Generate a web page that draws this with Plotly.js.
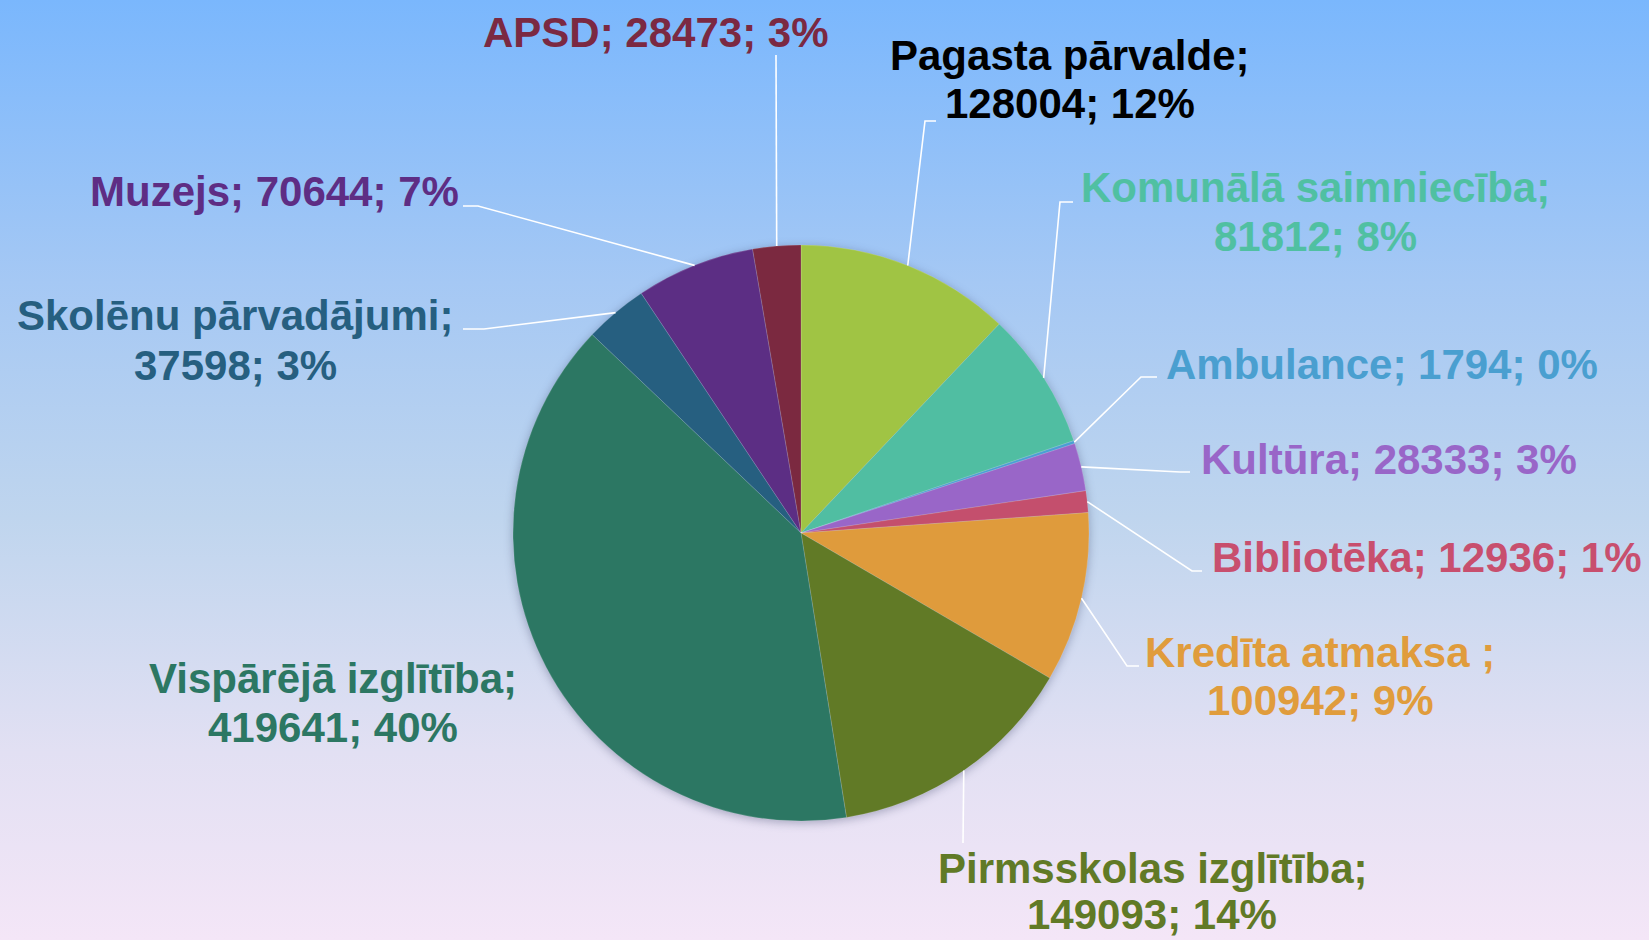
<!DOCTYPE html>
<html>
<head>
<meta charset="utf-8">
<script src="https://cdn.plot.ly/plotly-3.0.1.min.js"></script>
<style>
html,body{margin:0;padding:0;}
body{width:1649px;height:940px;overflow:hidden;background:linear-gradient(to bottom,#7ab7fd 0%,#a5c8f4 30%,#bfd5ee 55%,#e2e0f3 80%,#f4e6f7 100%);}
#chart{width:1649px;height:940px;}
#chart .pielayer{filter:drop-shadow(0px 2px 5px rgba(40,50,90,0.35));}
</style>
</head>
<body>
<div id="chart"></div>
<script>
// ---- data ----
const categories = ["Pagasta pārvalde", "Komunālā saimniecība", "Ambulance", "Kultūra", "Bibliotēka", "Kredīta atmaksa ", "Pirmsskolas izglītība", "Vispārējā izglītība", "Skolēnu pārvadājumi", "Muzejs", "APSD"];
const values = [128004, 81812, 1794, 28333, 12936, 100942, 149093, 419641, 37598, 70644, 28473];
const percentLabels = [12, 8, 0, 3, 1, 9, 14, 40, 3, 7, 3];

// ---- styles ----
const sliceColors = ["#a0c444", "#50bea2", "#4a9fd3", "#9966c8", "#c44f6d", "#df9b3c", "#617a26", "#2c7763", "#265f80", "#5c2e84", "#7b2940"];
const labelColors = ["#000000", "#50c0a2", "#4a9fd0", "#9966c8", "#c84f6e", "#e09c3c", "#617a26", "#2c7763", "#265f80", "#5e2d84", "#7b2942"];

// ---- layout geometry (pixels) ----
const W = 1649, H = 940;
const CX = 801, CY = 533, R = 288;
const FONT_SIZE = 42;
// label lines: [x, y] centre of each text line; twoLine tells whether name and numbers are split
const labelLayout = [
  {twoLine: true,  lines: [[1070, 55], [1070, 104]], path: [[925, 121], [936, 121]]},
  {twoLine: true,  lines: [[1315, 187], [1315, 236]], path: [[1060, 202], [1073, 202]]},
  {twoLine: false, lines: [[1382, 364]], path: [[1141, 377], [1157, 377]]},
  {twoLine: false, lines: [[1389, 460]], path: [[1180, 472], [1190, 472]]},
  {twoLine: false, lines: [[1427, 557]], path: [[1192, 571], [1202, 571]]},
  {twoLine: true,  lines: [[1320, 652], [1320, 700]], path: [[1127, 666], [1139, 666]]},
  {twoLine: true,  lines: [[1152, 868], [1152, 914]], path: [[963, 843]]},
  {twoLine: true,  lines: [[333, 678], [333, 727]], path: null},
  {twoLine: true,  lines: [[235, 316], [235, 365]], path: [[484, 329], [463, 329]]},
  {twoLine: false, lines: [[274, 191]], path: [[478, 206], [463, 206]]},
  {twoLine: false, lines: [[656, 32]], path: [[776, 55]]}
];

const px = x => x / W;
const py = y => 1 - y / H;

const total = values.reduce((a, b) => a + b, 0);
const annotations = [];
const shapes = [];
let cum = 0;
values.forEach((v, i) => {
  const mid = (cum + v / 2) / total * 2 * Math.PI;
  cum += v;
  const sx = CX + R * Math.sin(mid);
  const sy = CY - R * Math.cos(mid);
  const L = labelLayout[i];
  const name = categories[i] + ";";
  const nums = values[i] + "; " + percentLabels[i] + "%";
  const texts = L.twoLine ? [name, nums] : [name + " " + nums];
  texts.forEach((t, k) => {
    annotations.push({
      xref: "paper", yref: "paper",
      x: px(L.lines[k][0]), y: py(L.lines[k][1]),
      xanchor: "center", yanchor: "middle",
      text: "<b>" + t + "</b>",
      showarrow: false,
      font: {family: "Liberation Sans, Arial, sans-serif", size: FONT_SIZE, color: labelColors[i]}
    });
  });
  if (L.path) {
    let d = "M" + px(sx) + "," + py(sy);
    L.path.forEach(p => { d += " L" + px(p[0]) + "," + py(p[1]); });
    shapes.push({type: "path", xref: "paper", yref: "paper", path: d,
      line: {color: "#ffffff", width: 1.6}});
  }
});

const trace = {
  type: "pie",
  labels: categories,
  values: values,
  sort: false,
  direction: "clockwise",
  rotation: 0,
  textinfo: "none",
  textposition: "inside",
  hoverinfo: "label+value+percent",
  marker: {colors: sliceColors, line: {color: "rgba(255,255,255,0.25)", width: 0.6}},
  domain: {x: [px(CX - R), px(CX + R)], y: [py(CY + R), py(CY - R)]},
  showlegend: false
};

const layout = {
  width: W, height: H,
  margin: {l: 0, r: 0, t: 0, b: 0},
  paper_bgcolor: "rgba(0,0,0,0)",
  plot_bgcolor: "rgba(0,0,0,0)",
  showlegend: false,
  annotations: annotations,
  shapes: shapes
};

Plotly.newPlot("chart", [trace], layout, {displayModeBar: false, responsive: false});
</script>
</body>
</html>
